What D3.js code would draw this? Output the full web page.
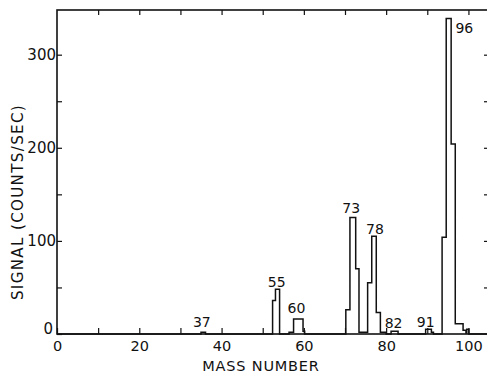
<!DOCTYPE html>
<html>
<head>
<meta charset="utf-8">
<script src="https://cdn.jsdelivr.net/npm/d3@7"></script>
<style>
  body { margin: 0; background: #fff; }
  svg { display: block; }
  text { font-family: "DejaVu Sans", sans-serif; fill: #111; }
  .domain { display: none; }
</style>
</head>
<body>
<script>
// Step trace: mass where each level starts, and its signal
const traceMass   = [0, 35.0, 36.1, 52.4, 53.1, 54.1, 56.4, 57.5, 59.8, 60.2,
                     70.2, 71.2, 72.6, 73.4, 75.5, 76.5, 77.6, 78.6, 80.0,
                     81.2, 82.9, 89.6, 91.0, 91.5,
                     93.6, 94.6, 95.8, 96.8, 98.7, 99.4, 99.6, 100.1, 105];
const traceSignal = [0, 2, 0, 36, 48, 0, 2, 16, 3, 0,
                     26, 125, 70, 2, 55, 105, 23, 2, 0,
                     3, 0, 5, 2, 0,
                     104, 339, 204, 11, 4, 1, 5, 0, 0];

// Peak labels and where they sit (mass, signal)
const peakText   = ["37", "55", "60", "73", "78", "82", "91", "96"];
const peakMass   = [35.2, 53.4, 58.2, 71.5, 77.3, 81.8, 89.6, 99.0];
const peakSignal = [7.5, 50.5, 22.6, 129.6, 107.5, 6.5, 7.5, 323.7];

const xTicks = [0, 20, 40, 60, 80, 100];
const xMinor = [10, 30, 50, 70, 90];
const yTicks = [0, 100, 200, 300];
const yMinor = [50, 150, 250];

function draw() {
  const width = 487, height = 373;
  const left = 57, right = 489, top = 10, bottom = 334;

  const svg = d3.select('body')
    .append('svg')
    .attr('width', width)
    .attr('height', height);

  const x = d3.scaleLinear().domain([0, 105]).range([left, right]);
  const y = d3.scaleLinear().domain([0, 348]).range([bottom, top]);

  // Frame
  svg.append('rect')
    .attr('x', left).attr('y', top)
    .attr('width', right - left).attr('height', bottom - top)
    .attr('fill', 'none')
    .attr('stroke', '#111')
    .attr('stroke-width', 1.6);

  // Bottom axis, ticks pointing up
  svg.append('g')
    .attr('class', 'x-axis')
    .attr('transform', 'translate(0,' + bottom + ')')
    .call(d3.axisBottom(x).tickValues(xTicks.concat(xMinor)).tickSize(-6).tickPadding(4)
      .tickFormat(d => xTicks.includes(d) ? d : ''))
    .call(g => g.selectAll('text').attr('font-size', 14.5).attr('dy', '0.88em').attr('fill', '#111'))
    .call(g => g.selectAll('line').attr('stroke', '#111').attr('stroke-width', 1.2));

  // Top axis ticks pointing down
  svg.append('g')
    .attr('transform', 'translate(0,' + top + ')')
    .call(d3.axisTop(x).tickValues(xTicks.concat(xMinor).filter(d => d > 0)).tickSize(-5).tickFormat(''))
    .call(g => g.selectAll('line').attr('stroke', '#111').attr('stroke-width', 1.2));

  // Left axis
  svg.append('g')
    .attr('class', 'y-axis')
    .attr('transform', 'translate(' + left + ',0)')
    .call(d3.axisLeft(y).tickValues(yTicks.concat(yMinor)).tickSize(-5).tickPadding(1)
      .tickFormat(d => yTicks.includes(d) ? d : ''))
    .call(g => g.selectAll('text').attr('font-size', 15).attr('fill', '#111'))
    .call(g => g.selectAll('line').attr('stroke', '#111').attr('stroke-width', 1.2));

  // "0" on the y axis sits a little higher and left of the corner
  svg.select('.y-axis').selectAll('text').filter(d => d === 0)
    .attr('dy', '-0.02em').attr('x', -4);

  // Right axis ticks pointing left
  svg.append('g')
    .attr('transform', 'translate(' + right + ',0)')
    .call(d3.axisRight(y).tickValues(yTicks.concat(yMinor).filter(d => d > 0)).tickSize(-5).tickFormat(''))
    .call(g => g.selectAll('line').attr('stroke', '#111').attr('stroke-width', 1.2));

  // Trace
  const trace = traceMass.map((m, i) => [m, traceSignal[i]]);
  const line = d3.line()
    .x(d => x(d[0]))
    .y(d => y(d[1]))
    .curve(d3.curveStepAfter);

  svg.append('path')
    .datum(trace)
    .attr('d', line)
    .attr('fill', 'none')
    .attr('stroke', '#111')
    .attr('stroke-width', 1.5);

  // Peak labels
  svg.append('g')
    .selectAll('text')
    .data(peakText)
    .enter().append('text')
    .attr('x', (d, i) => x(peakMass[i]))
    .attr('y', (d, i) => y(peakSignal[i]))
    .attr('text-anchor', 'middle')
    .attr('font-size', 14)
    .text(d => d);

  // Axis titles
  svg.append('text')
    .attr('x', 261)
    .attr('y', 371)
    .attr('text-anchor', 'middle')
    .attr('font-size', 14.5)
    .attr('letter-spacing', 0.8)
    .text('MASS NUMBER');

  svg.append('text')
    .attr('transform', 'translate(23,202) rotate(-90)')
    .attr('text-anchor', 'middle')
    .attr('font-size', 15)
    .attr('letter-spacing', 1.4)
    .text('SIGNAL (COUNTS/SEC)');
}

draw();
</script>
</body>
</html>
